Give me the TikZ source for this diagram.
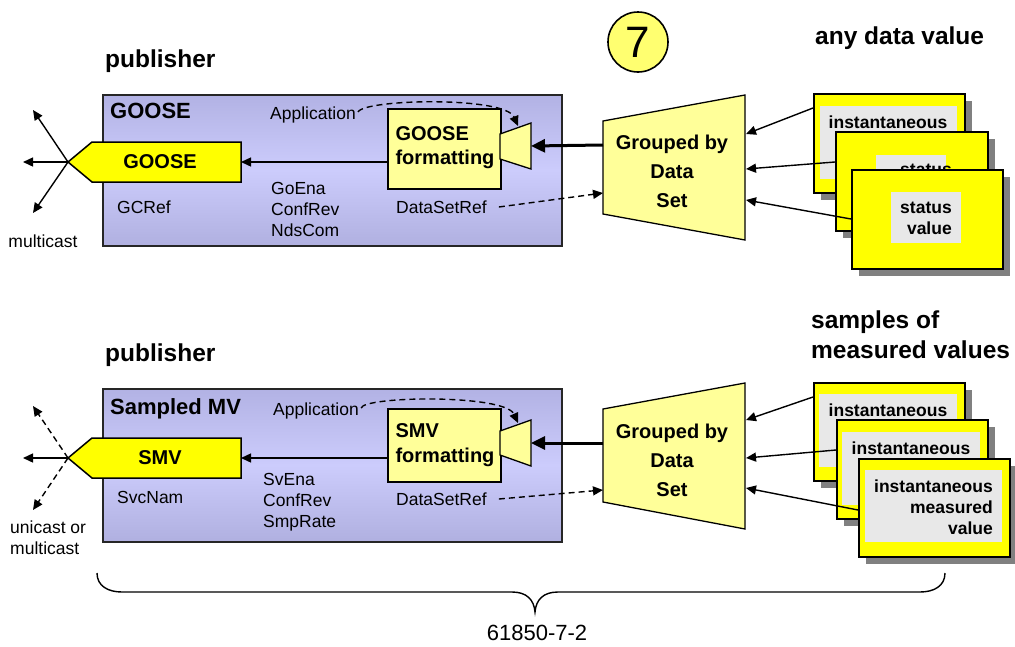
\documentclass[tikz,border=0pt]{standalone}
\usepackage{fontspec}
\setmainfont{Liberation Sans}
\usetikzlibrary{arrows.meta}
\definecolor{lyel}{RGB}{255,255,153}
\definecolor{yel}{RGB}{255,255,0}
\definecolor{circyel}{RGB}{255,255,112}
\definecolor{pbtop}{RGB}{178,178,228}
\definecolor{pbmid}{RGB}{204,204,252}
\definecolor{pbbot}{RGB}{176,176,224}
\definecolor{shad}{RGB}{128,128,128}
\definecolor{innergrey}{RGB}{232,232,232}
\tikzset{
  txt/.style={inner sep=0pt, font=\fontsize{17.5}{21}\selectfont, anchor=west, align=left},
  hd/.style={inner sep=0pt, font=\fontsize{24.5}{30}\selectfont\bfseries, anchor=west, align=left},
  hdb/.style={inner sep=0pt, font=\fontsize{22}{26}\selectfont\bfseries, anchor=west},
  btxt/.style={inner sep=0pt, font=\fontsize{20}{24}\selectfont\bfseries},
  ctxt/.style={inner sep=0pt, font=\fontsize{17.5}{21}\selectfont\bfseries},
  pubbox/.style={draw=black!85, line width=1.8pt, top color=pbtop, bottom color=pbbot, middle color=pbmid, anchor=north west, inner sep=0pt},
  fmtbox/.style={draw=black, line width=1.5pt, fill=lyel, anchor=north west, inner sep=0pt},
  pent/.style={draw=black, line width=1.5pt, fill=yel},
  trap/.style={draw=black, line width=1.3pt, fill=lyel},
  shadowbox/.style={fill=shad, anchor=north west, inner sep=0pt},
  cardbox/.style={draw=black, line width=1.5pt, fill=yel, anchor=north west, inner sep=0pt},
  innerbox/.style={fill=innergrey, anchor=north west, inner sep=0pt},
  arr/.style={-{Triangle[length=10pt,width=9pt]}, line width=1.4pt},
  darr/.style={arr, dash pattern=on 6pt off 4pt},
  tarr/.style={-{Triangle[length=14pt,width=13pt]}, line width=3pt},
}
\newcommand\mkcard[5]{%
  \path (#1,#2) ++(8,8) node[shadowbox, minimum width=#3, minimum height=#4] {};
  \node[cardbox, minimum width=#3, minimum height=#4] (#5) at (#1,#2) {};
}
\newcommand\mkinner[4]{%
  \node[innerbox, minimum width=#3, minimum height=#4] at (#1,#2) {};
}
\begin{document}
\begin{tikzpicture}[x=1pt,y=-1pt]
\useasboundingbox (0,0) rectangle (1015,646);

% ===================== TOP =====================
\node[hd] (pub1) at (105,61) {publisher};
\node[pubbox, minimum width=459, minimum height=151] (box1) at (102,94) {};
\node[hdb] (goosehd) at (110,111) {GOOSE};
\node[txt] (app1) at (270,115) {Application};

\draw[pent] (68,162) coordinate (g1tip) -- (92,142) -- (241,142) -- (241,182) -- (92,182) -- cycle;
\coordinate (g1e) at (241,162);
\node[btxt] (goose) at (160,162) {GOOSE};

\coordinate (m1a) at (33,110);
\coordinate (m1b) at (23,162);
\coordinate (m1c) at (33,213);
\draw[arr] (g1tip) -- (m1a);
\draw[arr] (g1tip) -- (m1b);
\draw[arr] (g1tip) -- (m1c);
\node[txt, anchor=center] (mc1) at (43,241) {multicast};

\node[txt] (gcref) at (117,207) {GCRef};
\node[txt] (gpar) at (271,209) {GoEna\\ConfRev\\NdsCom};

\node[fmtbox, minimum width=113, minimum height=80] (fmt1) at (387,108) {};
\node[btxt, align=left] (fmt1t) at (445,148) {GOOSE\\formatting};
\draw[arr] (fmt1.west |- g1e) -- (g1e);

\draw[fill=lyel, line width=1.3pt] (500,134) -- (531,123) -- (531,169) -- (500,159) -- cycle;
\coordinate (fun1e) at (531,146);
\coordinate (fun1t) at (518,126);

\draw[darr] ([shift={(2,-3)}]app1.east) .. controls (364,99) and (505,96) .. (fun1t);

\node[txt] (dsr1) at (396,207) {DataSetRef};

\draw[trap] (603,121) coordinate (gr1lt) -- (745,95) -- (745,240) -- (603,214) -- cycle;
\node[btxt, align=center] (grp1) at (672,171) {Grouped by\\[5pt]Data\\[5pt]Set};
\coordinate (gr1l1) at (603,145);
\coordinate (gr1l2) at (603,193);
\draw[tarr] (gr1l1) -- (fun1e);
\draw[darr] ([xshift=12pt]dsr1.east) -- (gr1l2);

\node[circle, draw=black, line width=1.6pt, fill=circyel, minimum size=60, inner sep=0pt, font=\fontsize{44}{44}\selectfont] (seven) at (638,42) {7};
\node[hd] (anydv) at (815,38) {any data value};

\mkcard{813}{93}{151}{99}{c11}
\mkinner{820}{106}{137}{73}
\node[ctxt] (c11t) at (888,122) {instantaneous};
\mkcard{835}{131}{152}{99}{c12}
\mkinner{876}{155}{70}{51}
\node[ctxt, align=right] (c12t) at (926,180) {status\\value};
\mkcard{851}{169}{151}{99}{c13}
\mkinner{891}{192}{70}{51}
\node[ctxt, align=right] (c13t) at (926,218) {status\\value};

\coordinate (gr1r1) at (746,134);
\coordinate (gr1r2) at (746,169);
\coordinate (gr1r3) at (746,200);
\draw[arr] ([yshift=-15pt]c11.north west) -- (gr1r1);
\draw[arr] ([yshift=-31pt]c12.north west) -- (gr1r2);
\draw[arr] ([yshift=-50pt]c13.north west) -- (gr1r3);

% ===================== BOTTOM =====================
\node[hd] (pub2) at (105,355) {publisher};
\node[pubbox, minimum width=459, minimum height=153] (box2) at (102,388) {};
\node[hdb] (smvhd) at (110,409) {Sampled MV};
\node[txt] (app2) at (273,411) {Application};

\draw[pent] (68,458) coordinate (g2tip) -- (92,438) -- (241,438) -- (241,478) -- (92,478) -- cycle;
\coordinate (g2e) at (241,458);
\node[btxt] (smv) at (160,458) {SMV};

\coordinate (m2a) at (33,406);
\coordinate (m2b) at (23,458);
\coordinate (m2c) at (33,510);
\draw[darr] (g2tip) -- (m2a);
\draw[arr] (g2tip) -- (m2b);
\draw[darr] (g2tip) -- (m2c);
\node[txt] (mc2) at (10,538) {unicast or\\multicast};

\node[txt] (svcnam) at (117,497) {SvcNam};
\node[txt] (spar) at (263,502) {SvEna\\ConfRev\\SmpRate};

\node[fmtbox, minimum width=113, minimum height=73] (fmt2) at (387,408) {};
\node[btxt, align=left] (fmt2t) at (445,445) {SMV\\[1pt]formatting};
\draw[arr] (fmt2.west |- g2e) -- (g2e);

\draw[fill=lyel, line width=1.3pt] (500,431) -- (531,420) -- (531,466) -- (500,455) -- cycle;
\coordinate (fun2e) at (531,443);
\coordinate (fun2t) at (518,423);

\draw[darr] ([shift={(2,-3)}]app2.east) .. controls (364,396) and (505,394) .. (fun2t);

\node[txt] (dsr2) at (396,499) {DataSetRef};

\draw[trap] (603,409) -- (745,383) -- (745,529) -- (603,502) -- cycle;
\node[btxt, align=center] (grp2) at (672,460) {Grouped by\\[5pt]Data\\[5pt]Set};
\coordinate (gr2l1) at (603,443);
\coordinate (gr2l2) at (603,490);
\draw[tarr] (gr2l1) -- (fun2e);
\draw[darr] ([xshift=12pt]dsr2.east) -- (gr2l2);

\node[hd] (samples) at (811,335) {samples of\\measured values};

\mkcard{813}{382}{151}{98}{c21}
\mkinner{819}{394}{138}{73}
\node[ctxt] (c21t) at (888,410) {instantaneous};
\mkcard{836}{419}{151}{99}{c22}
\mkinner{842}{432}{138}{73}
\node[ctxt] (c22t) at (911,448) {instantaneous};
\mkcard{858}{458}{151}{98}{c23}
\mkinner{865}{470}{137}{72}
\node[ctxt, align=right, anchor=east] (c23t) at (993,507) {instantaneous\\measured\\value};

\coordinate (gr2r1) at (746,420);
\coordinate (gr2r2) at (746,458);
\coordinate (gr2r3) at (746,488);
\draw[arr] ([yshift=-15pt]c21.north west) -- (gr2r1);
\draw[arr] ([yshift=-31pt]c22.north west) -- (gr2r2);
\draw[arr] ([yshift=-52pt]c23.north west) -- (gr2r3);

% ===================== BRACE =====================
\draw[line width=1.4pt] (97,573) .. controls (97,586) and (108,592) .. (122,592)
  -- (512,592) .. controls (527,592) and (534,600) .. (535,612)
  .. controls (536,600) and (543,592) .. (558,592)
  -- (920,592) .. controls (934,592) and (945,586) .. (945,573);
\node[inner sep=0pt, font=\fontsize{22}{22}\selectfont] (ref) at (537,633) {61850-7-2};
\end{tikzpicture}
\end{document}
